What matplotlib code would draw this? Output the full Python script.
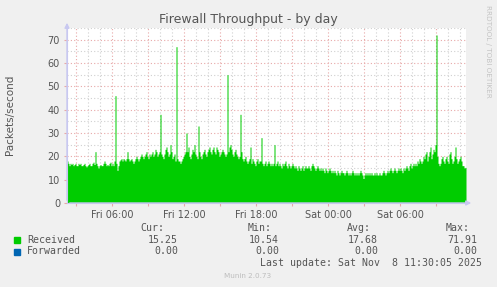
import numpy as np
import matplotlib
matplotlib.use("Agg")
import matplotlib.pyplot as plt
import matplotlib.dates as mdates
from matplotlib.ticker import FuncFormatter, MultipleLocator

# packets/second, one sample per 5 minutes, Fri 02:15 -> Sat 11:25
received = [
    18, 17, 16, 17, 16.5, 17, 16, 16.5, 17, 16, 16, 17,
    16.5, 17, 16, 16, 16.5, 17, 16, 15.5, 16, 16.5, 17, 16,
    16, 17, 17.5, 16.5, 22, 17, 16, 15, 16, 16.5, 16, 16,
    17, 18, 17, 16, 16.5, 16, 17, 17.5, 16, 17, 16, 18,
    46, 17, 14, 16, 18, 18.5, 19, 18, 19, 18.5, 18, 19,
    22, 19, 18, 18.5, 19, 18, 17, 18, 19, 20, 19, 18,
    19, 20, 21, 20, 19, 20, 21, 22, 20, 19, 21, 20,
    21, 22, 20, 21, 23, 22, 20, 21, 22, 38, 21, 20,
    19, 21, 23, 24, 22, 20, 21, 25, 22, 19, 20, 21,
    18, 67, 19, 18, 18, 17, 18, 19, 20, 21, 22, 30,
    22, 24, 20, 19, 21, 23, 22, 25, 21, 20, 19, 33,
    22, 20, 19, 21, 22, 23, 21, 20, 22, 23, 24, 22,
    21, 23, 24, 22, 21, 24, 23, 22, 20, 21, 22, 23,
    22, 21, 20, 21, 55, 22, 24, 25, 23, 21, 20, 22,
    23, 21, 20, 19, 20, 38, 22, 19, 18, 19, 20, 18,
    17, 18, 19, 24, 17, 19, 18, 17, 16, 18, 19, 17,
    18, 18, 28, 17, 16, 17, 18, 16, 17, 18, 17, 16,
    17, 16, 17, 25, 16, 17, 18, 16, 17, 16, 15, 17,
    16, 17, 18, 16, 15, 17, 16, 15, 16, 17, 16, 15,
    16, 15, 14, 16, 15, 14, 15, 16, 14, 15, 16, 15,
    15, 16, 15, 14, 16, 17, 16, 15, 14, 15, 16, 15,
    14, 15, 14, 15, 14, 13, 15, 14, 13, 14, 15, 14,
    13, 14, 13, 14, 13, 12, 14, 13, 12, 13, 14, 13,
    13, 12, 13, 14, 13, 12, 13, 12, 13, 14, 13, 12,
    13, 12, 13, 12, 13, 14, 13, 12, 10.5, 12, 13, 12,
    13, 12, 13, 12, 13, 12, 12, 13, 12, 13, 12, 12,
    13, 12, 12, 13, 14, 13, 12, 13, 14, 13, 14, 15,
    14, 13, 14, 15, 14, 13, 14, 15, 14, 15, 14, 13,
    15, 14, 15, 16, 15, 14, 16, 17, 15, 16, 17, 16,
    17, 16, 18, 17, 19, 18, 17, 18, 20, 19, 21, 22,
    18, 20, 22, 24, 19, 21, 23, 22, 25, 72, 20, 17,
    16, 17, 19, 20, 18, 17, 19, 20, 18, 17, 21, 22,
    19, 17, 18, 20, 24, 19, 17, 18, 19, 20, 18, 16,
    16, 15, 15.25,
]
series_names = ["Received", "Forwarded"]
cur_vals = ["15.25", "0.00"]
min_vals = ["10.54", "0.00"]
avg_vals = ["17.68", "0.00"]
max_vals = ["71.91", "0.00"]
start = np.datetime64("2025-11-07T02:15")
end = np.datetime64("2025-11-08T11:30")

W, H = 497, 287
GREEN = "#00cc00"
BLUE = "#0066b3"
TXT = "#555555"

def fx(x):
    return x / W

def fy(y):
    return 1 - y / H

times = start + np.arange(len(received) + 1) * np.timedelta64(5, "m")
vals = np.append(received, received[-1])

fig = plt.figure(figsize=(W / 100, H / 100), dpi=100, facecolor="#f0f0f0")
ax = fig.add_axes([fx(67), fy(203), fx(466) - fx(67), fy(28) - fy(203)])
ax.set_facecolor("white")

ax.fill_between(times.astype("datetime64[s]").astype(object), 0, vals, step="post",
                color=GREEN, lw=0, zorder=3)

ax.set_xlim(start.astype(object), end.astype(object))
ax.set_ylim(0, 75)

ax.xaxis.set_major_locator(mdates.HourLocator(byhour=range(0, 24, 3)))
ax.xaxis.set_minor_locator(mdates.HourLocator())
ax.xaxis.set_major_formatter(FuncFormatter(
    lambda v, p: mdates.num2date(v).strftime("%a %H:%M")
    if mdates.num2date(v).hour % 6 == 0 else ""))
ax.yaxis.set_major_locator(MultipleLocator(10))
ax.yaxis.set_minor_locator(MultipleLocator(5))

dots = (0, (1, 2))
ax.grid(which="minor", color="#d0d0d0", lw=0.8, ls=dots, zorder=1)
ax.grid(which="major", color="#e8a8a8", lw=0.8, ls=dots, zorder=2)
ax.set_axisbelow(True)

ax.tick_params(which="major", length=2, color="#e8a8a8", labelsize=7,
               labelcolor=TXT, pad=3)
ax.tick_params(which="minor", length=0)
for s in ["top", "right"]:
    ax.spines[s].set_visible(False)
for s in ["left", "bottom"]:
    ax.spines[s].set_color("#c8c8f0")
    ax.spines[s].set_zorder(4)

# axis arrows
arrow = dict(arrowstyle="-|>", color="#c8c8f0", lw=1, mutation_scale=7)
ax.annotate("", xy=(67, H - 20), xytext=(67, H - 203), xycoords="figure pixels",
            textcoords="figure pixels", arrowprops=arrow)
ax.annotate("", xy=(474, H - 203), xytext=(67, H - 203), xycoords="figure pixels",
            textcoords="figure pixels", arrowprops=arrow)

fig.text(fx(248), fy(19), "Firewall Throughput - by day", ha="center", va="center",
         fontsize=9, color=TXT)
fig.text(fx(10), fy(115), "Packets/second", rotation=90, ha="center", va="center",
         fontsize=7.5, color=TXT)
fig.text(fx(488), fy(5), "RRDTOOL / TOBI OETIKER", rotation=270, ha="center",
         va="top", fontsize=5.2, color="#c4c4c4")

mono = dict(family="DejaVu Sans Mono", fontsize=7.1, color=TXT, va="center")
col_heads = ["Cur:", "Min:", "Avg:", "Max:"]
head_ends = [164, 272, 371, 470]
val_ends = [178, 279, 378, 477]
for h, xe in zip(col_heads, head_ends):
    fig.text(fx(xe), fy(228), h, ha="right", **mono)

colors = [GREEN, BLUE]
rows_y = [240, 251.5]
for i, name in enumerate(series_names):
    y = rows_y[i]
    fig.patches.append(plt.Rectangle((fx(14), fy(y + 3)), fx(6), 6 / H,
                                     transform=fig.transFigure, color=colors[i]))
    fig.text(fx(27), fy(y), name, ha="left", **mono)
    for v, xe in zip([cur_vals[i], min_vals[i], avg_vals[i], max_vals[i]], val_ends):
        fig.text(fx(xe), fy(y), v, ha="right", **mono)

fig.text(fx(482), fy(263.5), "Last update: Sat Nov  8 11:30:05 2025", ha="right", **mono)
fig.text(fx(248), fy(276), "Munin 2.0.73", ha="center", va="center",
         fontsize=5.2, color="#bdbdbd")

fig.savefig("out.png", dpi=100, facecolor=fig.get_facecolor())
